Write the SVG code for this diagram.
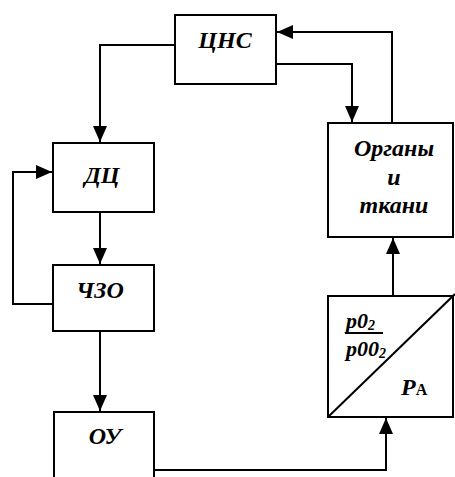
<svg xmlns="http://www.w3.org/2000/svg" width="455" height="477" viewBox="0 0 455 477">
<defs>
<marker id="ah" viewBox="0 0 16 14" refX="16" refY="7" markerWidth="16" markerHeight="14" markerUnits="userSpaceOnUse" orient="auto">
<path d="M0,0 L16,7 L0,14 Z" fill="#000"/>
</marker>
</defs>
<style>
.box{fill:#fff;stroke:#000;stroke-width:2}
.ln{fill:none;stroke:#000;stroke-width:2}
.t{font-family:"Liberation Serif","Times New Roman",serif;font-weight:bold;font-style:italic;font-size:24px;fill:#000}
.f{font-size:22px}
</style>
<rect width="455" height="477" fill="#fff"/>
<g id="connectors">
<path class="ln" d="M175,45 H100 V142" marker-end="url(#ah)"/>
<path class="ln" d="M100,212 V264" marker-end="url(#ah)"/>
<path class="ln" d="M53,304 H13 V172 H52" marker-end="url(#ah)"/>
<path class="ln" d="M100,331 V411" marker-end="url(#ah)"/>
<path class="ln" d="M154,470 H386 V418" marker-end="url(#ah)"/>
<path class="ln" d="M393,296 V238" marker-end="url(#ah)"/>
<path class="ln" d="M392,123 V32 H277" marker-end="url(#ah)"/>
<path class="ln" d="M276,64 H352 V122" marker-end="url(#ah)"/>
</g>
<g id="cns">
<rect class="box" x="175" y="15" width="101" height="69"/>
<text class="t" x="225" y="48" text-anchor="middle">ЦНС</text>
</g>
<g id="dc">
<rect class="box" x="53" y="143" width="101" height="69"/>
<text class="t" x="102" y="183" text-anchor="middle">ДЦ</text>
</g>
<g id="chzo">
<rect class="box" x="53" y="265" width="101" height="66"/>
<text class="t" x="100" y="298" text-anchor="middle">ЧЗО</text>
</g>
<g id="ou">
<rect class="box" x="54" y="412" width="100" height="70"/>
<text class="t" x="105" y="444" text-anchor="middle">ОУ</text>
</g>
<g id="organs">
<rect class="box" x="328" y="123" width="125" height="114"/>
<text class="t" x="394" y="156" text-anchor="middle">Органы</text>
<text class="t" x="394" y="185" text-anchor="middle">и</text>
<text class="t" x="394" y="213" text-anchor="middle">ткани</text>
</g>
<g id="pa">
<rect class="box" x="328" y="296" width="125" height="121"/>
<path class="ln" d="M328,417 L455,294"/>
<text class="t f" x="346" y="328">p0<tspan font-size="14" dy="2">2</tspan></text>
<path class="ln" d="M345,333 H383"/>
<text class="t f" x="346" y="356">p00<tspan font-size="14" dy="2">2</tspan></text>
<text class="t" x="401" y="395">P<tspan font-size="16" font-style="normal">A</tspan></text>
</g>
</svg>
